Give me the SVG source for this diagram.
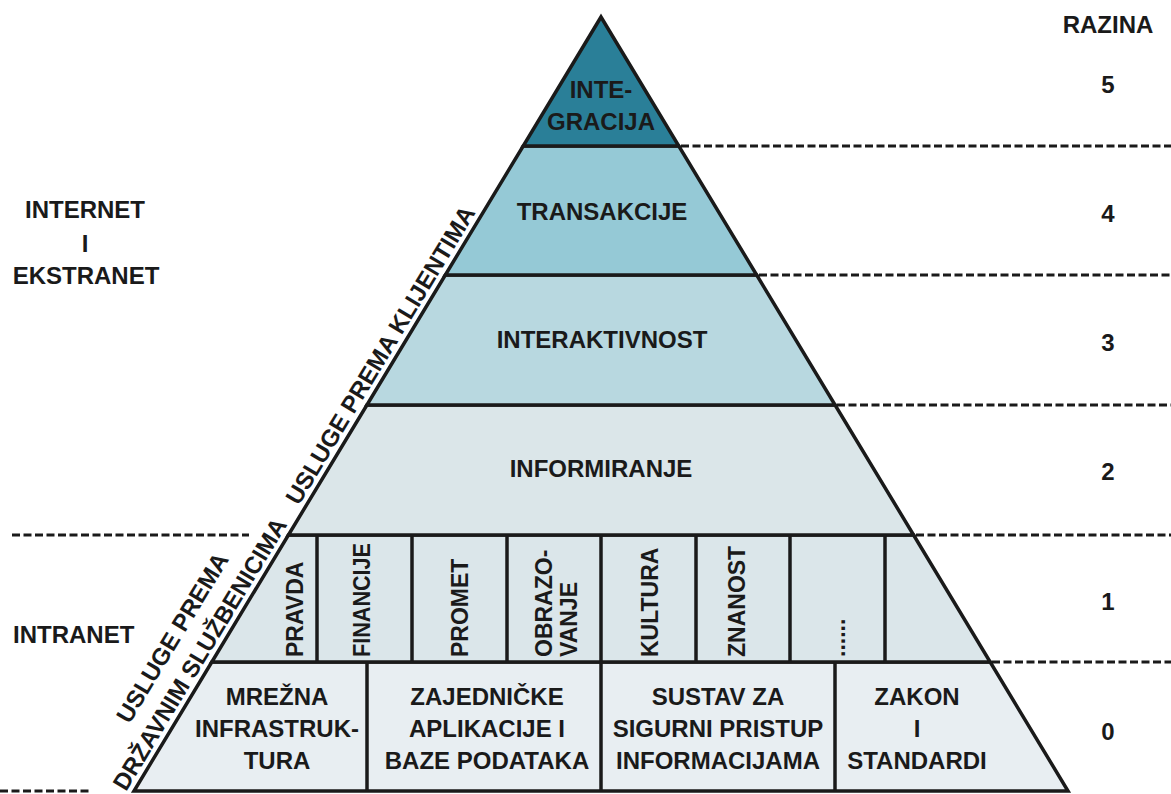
<svg xmlns="http://www.w3.org/2000/svg" width="1171" height="794" viewBox="0 0 1171 794">
<style>
text{font-family:"Liberation Sans",Arial,sans-serif;font-weight:bold;font-size:24px;fill:#1a1a1a}
.c{text-anchor:middle}
.v{font-size:23px}
.lvl{stroke:#1a1a1a;stroke-width:3.5;stroke-linejoin:miter}
.div{stroke:#1a1a1a;stroke-width:3.5}
.dash{stroke:#1a1a1a;stroke-width:3;stroke-dasharray:8 3.5;fill:none}
</style>
<rect width="1171" height="794" fill="#ffffff"/>
<g id="connectors">
<line class="dash" x1="681" y1="146" x2="1171" y2="146"/>
<line class="dash" x1="759" y1="275" x2="1171" y2="275"/>
<line class="dash" x1="837" y1="405" x2="1171" y2="405"/>
<line class="dash" x1="916" y1="535" x2="1171" y2="535"/>
<line class="dash" x1="992" y1="662" x2="1171" y2="662"/>
<line class="dash" x1="12" y1="535" x2="249" y2="535"/>
<line class="dash" x1="0" y1="791" x2="89" y2="791"/>
</g>
<g id="level0">
<polygon class="lvl" fill="#e8eef2" points="211.8,662 990.2,662 1068,791 134,791"/>
<line class="div" x1="367" y1="662" x2="367" y2="791"/>
<line class="div" x1="601" y1="662" x2="601" y2="791"/>
<line class="div" x1="835" y1="662" x2="835" y2="791"/>
<text class="c" x="277" y="705">MREŽNA</text>
<text class="c" x="277" y="737">INFRASTRUK-</text>
<text class="c" x="277" y="769">TURA</text>
<text class="c" x="487" y="705">ZAJEDNIČKE</text>
<text class="c" x="487" y="737">APLIKACIJE I</text>
<text class="c" x="487" y="769">BAZE PODATAKA</text>
<text class="c" x="718" y="705">SUSTAV ZA</text>
<text class="c" x="718" y="737">SIGURNI PRISTUP</text>
<text class="c" x="718" y="769">INFORMACIJAMA</text>
<text class="c" x="917" y="705">ZAKON</text>
<text class="c" x="917" y="737">I</text>
<text class="c" x="917" y="769">STANDARDI</text>
</g>
<g id="level1">
<polygon class="lvl" fill="#dbe6ea" points="288.4,535 913.6,535 990.2,662 211.8,662"/>
<line class="div" x1="317" y1="535" x2="317" y2="662"/>
<line class="div" x1="412" y1="535" x2="412" y2="662"/>
<line class="div" x1="507" y1="535" x2="507" y2="662"/>
<line class="div" x1="601" y1="535" x2="601" y2="662"/>
<line class="div" x1="696" y1="535" x2="696" y2="662"/>
<line class="div" x1="790" y1="535" x2="790" y2="662"/>
<line class="div" x1="885" y1="535" x2="885" y2="662"/>
<text class="v" transform="translate(303,657) rotate(-90)">PRAVDA</text>
<text class="v" transform="translate(370,657) rotate(-90)" textLength="114" lengthAdjust="spacingAndGlyphs">FINANCIJE</text>
<text class="v" transform="translate(468,657) rotate(-90)">PROMET</text>
<text class="v" transform="translate(552,657) rotate(-90)">OBRAZO-</text>
<text class="v" transform="translate(577,657) rotate(-90)">VANJE</text>
<text class="v" transform="translate(658,657) rotate(-90)">KULTURA</text>
<text class="v" transform="translate(745,657) rotate(-90)">ZNANOST</text>
<text class="v" transform="translate(845,657) rotate(-90)">......</text>
</g>
<g id="level2">
<polygon class="lvl" fill="#dbe6e9" points="366.9,405 835.1,405 913.6,535 288.4,535"/>
<text class="c" x="601" y="477">INFORMIRANJE</text>
</g>
<g id="level3">
<polygon class="lvl" fill="#b8d8e0" points="445.3,275 756.7,275 835.1,405 366.9,405"/>
<text class="c" x="602" y="348">INTERAKTIVNOST</text>
</g>
<g id="level4">
<polygon class="lvl" fill="#95c9d6" points="523.2,146 678.8,146 756.7,275 445.3,275"/>
<text class="c" x="602" y="220">TRANSAKCIJE</text>
</g>
<g id="level5">
<polygon class="lvl" fill="#2a7f98" points="601,17 678.8,146 523.2,146"/>
<text class="c" x="601" y="98">INTE-</text>
<text class="c" x="601" y="130">GRACIJA</text>
</g>
<g id="side-labels">
<text class="c" transform="translate(392.5,362.5) rotate(-58.89)" x="0" y="-6">USLUGE PREMA KLIJENTIMA</text>
<g transform="translate(212,661.5) rotate(-58.89)">
<text class="c" x="0" y="-38">USLUGE PREMA</text>
<text class="c" x="0" y="-6" font-size="23">DRŽAVNIM SLUŽBENICIMA</text>
</g>
<text class="c" x="85" y="218">INTERNET</text>
<text class="c" x="85" y="252">I</text>
<text class="c" x="86" y="284">EKSTRANET</text>
<text x="13" y="643">INTRANET</text>
</g>
<g id="levels-axis">
<text class="c" x="1108" y="33">RAZINA</text>
<text class="c" x="1108" y="93">5</text>
<text class="c" x="1108" y="222">4</text>
<text class="c" x="1108" y="351">3</text>
<text class="c" x="1108" y="480">2</text>
<text class="c" x="1108" y="610">1</text>
<text class="c" x="1108" y="740">0</text>
</g>
</svg>
